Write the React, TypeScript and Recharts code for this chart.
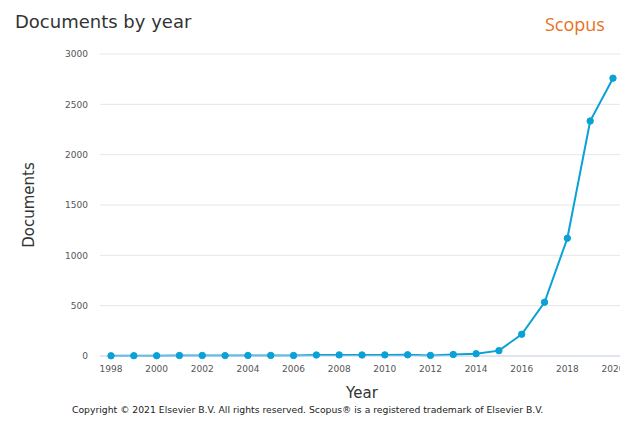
import React from "react";
import { LineChart, Line, XAxis, YAxis, CartesianGrid } from "recharts";

const years = [1998, 1999, 2000, 2001, 2002, 2003, 2004, 2005, 2006, 2007, 2008, 2009, 2010, 2011, 2012, 2013, 2014, 2015, 2016, 2017, 2018, 2019, 2020];
const documents = [2, 3, 3, 5, 5, 4, 5, 6, 5, 10, 11, 10, 11, 12, 6, 15, 23, 53, 216, 534, 1170, 2334, 2760];
const xTicks = [1998, 2000, 2002, 2004, 2006, 2008, 2010, 2012, 2014, 2016, 2018, 2020];
const yTicks = [0, 500, 1000, 1500, 2000, 2500, 3000];

const data = years.map((y, i) => ({ year: y, value: documents[i] }));

const FONT = "'DejaVu Sans', sans-serif";
const LINE = "#0aa1d6";

export default function App() {
  return (
    <div
      style={{
        position: "absolute",
        left: 0,
        top: 0,
        width: 620,
        height: 421,
        overflow: "hidden",
        background: "#fff",
        fontFamily: FONT,
      }}
    >
      <div style={{ position: "absolute", left: 15, top: 13, fontSize: 18, lineHeight: "18px", color: "#333", whiteSpace: "nowrap" }}>
        Documents by year
      </div>
      <div style={{ position: "absolute", left: 545, top: 15, fontSize: 18, lineHeight: "18px", color: "#e9711c", fontFamily: "'Open Sans', sans-serif", whiteSpace: "nowrap" }}>
        Scopus
      </div>
      <div style={{ position: "absolute", left: 0, top: 0 }}>
        <LineChart width={640} height={421} data={data} margin={{ top: 54, right: 16, bottom: 35, left: 0 }}>
          <CartesianGrid vertical={false} stroke="#e6e6e6" />
          <XAxis
            dataKey="year"
            type="number"
            domain={[1998, 2020]}
            ticks={xTicks}
            padding={{ left: 11, right: 11 }}
            axisLine={{ stroke: "#ccd6eb" }}
            tickLine={false}
            tickSize={0}
            tickMargin={10}
            height={30}
            tick={{ fontSize: 9, fill: "#555", fontFamily: FONT }}
          />
          <YAxis
            type="number"
            domain={[0, 3000]}
            ticks={yTicks}
            axisLine={false}
            tickLine={false}
            tickSize={0}
            tickMargin={12}
            width={100}
            tick={{ fontSize: 9, fill: "#555", fontFamily: FONT }}
          />
          <Line
            type="linear"
            dataKey="value"
            stroke={LINE}
            strokeWidth={2}
            dot={{ r: 3.2, fill: LINE, stroke: LINE, strokeWidth: 1 }}
            isAnimationActive={false}
          />
        </LineChart>
      </div>
      <div
        style={{
          position: "absolute",
          left: 29,
          top: 204.5,
          transform: "translate(-50%, -50%) rotate(-90deg)",
          fontSize: 15,
          lineHeight: "15px",
          color: "#333",
          whiteSpace: "nowrap",
        }}
      >
        Documents
      </div>
      <div style={{ position: "absolute", left: 362, top: 386, transform: "translateX(-50%)", fontSize: 15, lineHeight: "15px", color: "#333", whiteSpace: "nowrap" }}>
        Year
      </div>
      <div style={{ position: "absolute", left: 72, top: 405, fontSize: 9.25, lineHeight: "10px", color: "#222", whiteSpace: "nowrap" }}>
        Copyright © 2021 Elsevier B.V. All rights reserved. Scopus® is a registered trademark of Elsevier B.V.
      </div>
    </div>
  );
}
